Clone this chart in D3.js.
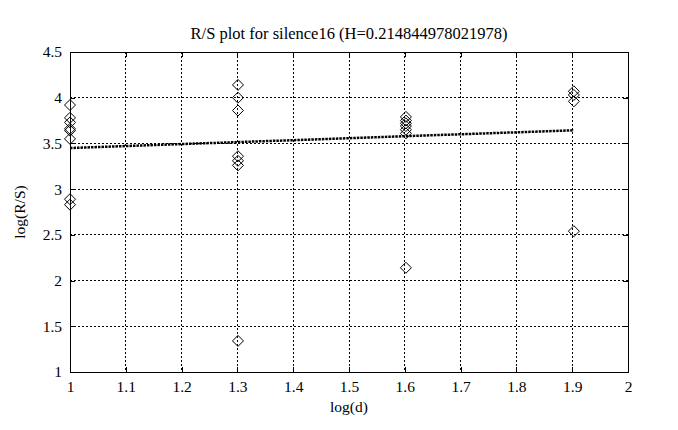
<!DOCTYPE html>
<html><head><meta charset="utf-8">
<script src="https://cdn.jsdelivr.net/npm/d3@7"></script>
<style>body{margin:0;background:#fff}svg{display:block}text{font-family:"Liberation Serif","Times New Roman",serif;fill:#000}</style>
</head><body><svg id="c" width="678" height="430"></svg>
<script>
const title = "R/S plot for silence16 (H=0.214844978021978)";
const xLabel = "log(d)";
const yLabel = "log(R/S)";
const xTicks = [1,1.1,1.2,1.3,1.4,1.5,1.6,1.7,1.8,1.9,2];
const yTicks = [1,1.5,2,2.5,3,3.5,4,4.5];
const pointX = [1,1,1,1,1,1,1,1,
  1.301,1.301,1.301,1.301,1.301,1.301,1.301,
  1.602,1.602,1.602,1.602,1.602,1.602,1.602,
  1.903,1.903,1.903,1.903];
const pointY = [3.92,3.78,3.73,3.66,3.64,3.55,2.89,2.83,
  4.14,4.0,3.86,3.36,3.31,3.26,1.34,
  3.79,3.75,3.72,3.69,3.65,3.61,2.14,
  4.07,4.03,3.96,2.54];
const H = 0.214844978021978;
const fitX = [1,1.903];
const fitIntercept = 3.235;

const svg = d3.select("#c");
const L=70,R=628,T=52,B=372;
const x = d3.scaleLinear().domain([1,2]).range([L,R]);
const y = d3.scaleLinear().domain([1,4.5]).range([B,T]);
const fmt = d=>String(+d.toFixed(1));

const g = svg.append("g");
g.selectAll(".vg").data(xTicks.slice(1,-1)).join("line")
  .attr("x1",d=>x(d)).attr("x2",d=>x(d)).attr("y1",T).attr("y2",B)
  .attr("stroke","#000").attr("stroke-width",1).attr("stroke-dasharray","1.5,2.5").attr("shape-rendering","crispEdges");
g.selectAll(".hg").data(yTicks.slice(1,-1)).join("line")
  .attr("y1",d=>y(d)).attr("y2",d=>y(d)).attr("x1",L).attr("x2",R)
  .attr("stroke","#000").attr("stroke-width",1).attr("stroke-dasharray","1.5,2.5").attr("shape-rendering","crispEdges");

const tl=5;
svg.append("g").attr("transform",`translate(0,${B})`)
  .call(d3.axisBottom(x).tickValues(xTicks).tickFormat(fmt).tickSizeInner(-tl).tickSizeOuter(0).tickPadding(9));
svg.append("g").attr("transform",`translate(0,${T})`)
  .call(d3.axisTop(x).tickValues(xTicks).tickFormat("").tickSizeInner(-tl).tickSizeOuter(0));
svg.append("g").attr("transform",`translate(${L},0)`)
  .call(d3.axisLeft(y).tickValues(yTicks).tickFormat(fmt).tickSizeInner(-tl).tickSizeOuter(0).tickPadding(8));
svg.append("g").attr("transform",`translate(${R},0)`)
  .call(d3.axisRight(y).tickValues(yTicks).tickFormat("").tickSizeInner(-tl).tickSizeOuter(0));
svg.selectAll(".domain").attr("stroke","#000").attr("shape-rendering","crispEdges");
svg.selectAll(".tick line").attr("stroke","#000").attr("shape-rendering","crispEdges");
svg.selectAll(".tick text").style("font-size","15.5px").style("font-family",'"Liberation Serif",serif');

svg.append("line")
  .attr("x1",x(fitX[0])).attr("x2",x(fitX[1]))
  .attr("y1",y(fitIntercept+H*fitX[0])).attr("y2",y(fitIntercept+H*fitX[1]))
  .attr("stroke","#000").attr("stroke-width",2.5).attr("stroke-dasharray","2.5,1");

const s=5.5;
svg.selectAll(".pt").data(pointX.map((d,i)=>[d,pointY[i]])).join("path")
  .attr("d",d=>{const cx=x(d[0]),cy=y(d[1]);return `M${cx},${cy-s}L${cx+s},${cy}L${cx},${cy+s}L${cx-s},${cy}Z`;})
  .attr("fill","none").attr("stroke","#000").attr("stroke-width",1);

svg.append("text").attr("x",(L+R)/2).attr("y",39).attr("text-anchor","middle").style("font-size","16.5px").text(title);
svg.append("text").attr("x",(L+R)/2).attr("y",412).attr("text-anchor","middle").style("font-size","15.5px").text(xLabel);
svg.append("text").attr("transform",`translate(25,${(T+B)/2}) rotate(-90)`).attr("text-anchor","middle").style("font-size","15.5px").text(yLabel);
</script></body></html>
